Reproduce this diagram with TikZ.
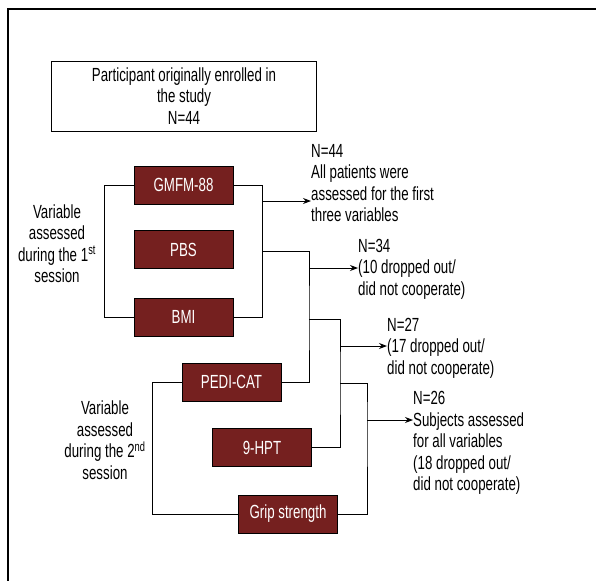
\documentclass[tikz,border=0pt]{standalone}
\usepackage{fontspec}
\setmainfont[FakeStretch=0.70]{Liberation Sans}
\usepackage{tikz}
\usetikzlibrary{arrows.meta, positioning}
\definecolor{maroon}{HTML}{75201F}

\begin{document}
\begin{tikzpicture}[x=1pt, y=-1pt,
        font=\fontsize{19}{21.5}\selectfont,
        start box/.style = {draw, line width=0.9pt, minimum width=265pt, minimum height=70pt, align=center, inner sep=0pt},
        var box/.style = {draw=black, line width=0.9pt, fill=maroon, text=white, minimum width=99pt, minimum height=38pt, inner sep=0pt},
        note/.style = {align=left, anchor=west, inner sep=0pt},
        label text/.style = {align=center, inner sep=0pt},
        line/.style = {line width=0.9pt},
        arrow/.style = {-{Stealth[length=8pt, width=6pt]}, line width=0.9pt}
    ]
    \useasboundingbox (0,0) rectangle (596,581);
    \draw[line width=1.4pt] (596,9) -- (8,9) -- (8,581);

    % Nodes
    \node (start) [start box] at (184,96) {Participant originally enrolled in\\the study\\N=44};
    \node (gmfm) [var box] at (183.5,185) {GMFM-88};
    \node (pbs) [var box] at (183.5,249.5) {PBS};
    \node (bmi) [var box] at (183.5,317) {BMI};
    \node (pedi) [var box] at (231.5,382) {PEDI-CAT};
    \node (hpt) [var box] at (262,447.5) {9-HPT};
    \node (grip) [var box] at (288,514) {Grip strength};

    \node (first) [label text] at (57,243.5) {Variable\\assessed\\during the 1\textsuperscript{st}\\session};
    \node (second) [label text] at (105,440) {Variable\\assessed\\during the 2\textsuperscript{nd}\\session};

    \node (n44) [note] at (311,183) {N=44\\All patients were\\assessed for the first\\three variables};
    \node (n34) [note] at (358,269) {N=34\\(10 dropped out/\\did not cooperate)};
    \node (n27) [note] at (387,348) {N=27\\(17 dropped out/\\did not cooperate)};
    \node (n26) [note] at (413,443) {N=26\\Subjects assessed\\for all variables\\(18 dropped out/\\did not cooperate)};

    \coordinate (s1) at (262,201);
    \coordinate (s2) at (262,251);
    \coordinate (s3) at (309,268);
    \coordinate (s4) at (309,319);
    \coordinate (s5) at (340,346);
    \coordinate (s6) at (340,383);
    \coordinate (s7) at (367,420);

    % Arrows
    \draw[line] (gmfm.west) -- ++(-29,0) |- (bmi.west);
    \draw[line] (gmfm.east) -- ++(29,0) |- (bmi.east);
    \draw[line] (pedi.west) -- ++(-29,0) |- (grip.west);
    \draw[line] (s2) -| (s4) |- (pedi.east);
    \draw[line] (s4) -| (s6) |- (hpt.east);
    \draw[line] (s6) -| (s7) |- (grip.east);
    \draw[arrow] (s1) -- (n44.west |- s1);
    \draw[arrow] (s3) -- (n34.west |- s3);
    \draw[arrow] (s5) -- (n27.west |- s5);
    \draw[arrow] (s7) -- (n26.west |- s7);

\end{tikzpicture}
\end{document}
